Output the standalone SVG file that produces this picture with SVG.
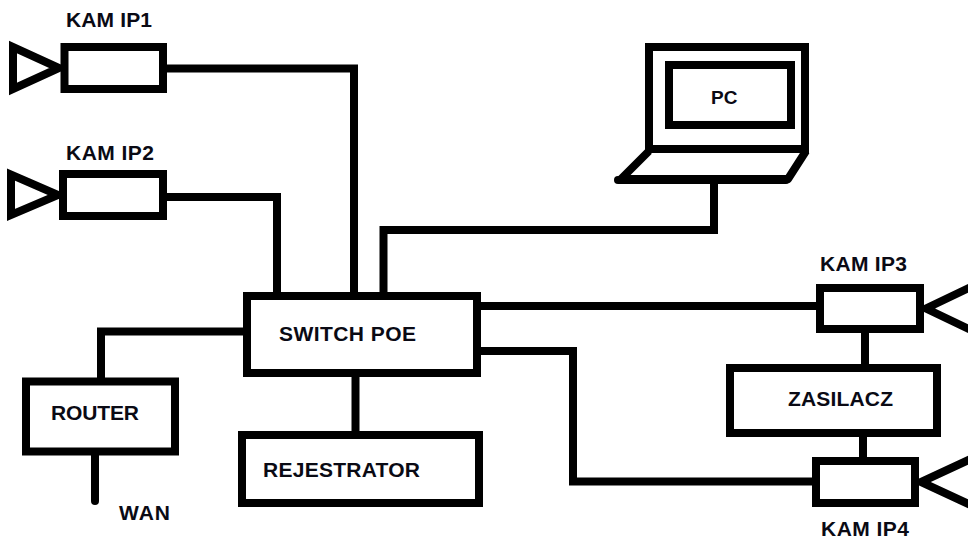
<svg xmlns="http://www.w3.org/2000/svg" width="968" height="540" viewBox="0 0 968 540">
<style>
.s{fill:#fff;stroke:#000;stroke-width:8;stroke-linejoin:miter}
.o{fill:none;stroke:#000;stroke-width:8;stroke-linejoin:miter;stroke-miterlimit:10}
text{font-family:"Liberation Sans",Arial,sans-serif;font-weight:bold;font-size:21px;fill:#0a0a14}
</style>
<rect width="968" height="540" fill="#fff"/>
<g id="connectors" class="o">
<path class="o" d="M167 68.500H354V296"/>
<path class="o" d="M167 197H277V296"/>
<path class="o" d="M714 184V230H383.500V296"/>
<path class="o" d="M243 331.500H101V378"/>
<path class="o" d="M95 455V501" stroke-linecap="round"/>
<path class="o" d="M355.500 377V431"/>
<path class="o" d="M481 306H816"/>
<path class="o" d="M481 351H573V481.500H813"/>
<path class="o" d="M865 333V364"/>
<path class="o" d="M863 437V457"/>
</g>
<g id="kam1"><polygon class="s" points="13,47 13,89 59,68"/><rect class="s" x="64.500" y="47" width="98.500" height="42"/><text x="66" y="27" textLength="86">KAM IP1</text></g>
<g id="kam2"><polygon class="s" points="11,174.500 11,215 58,195"/><rect class="s" x="63" y="174" width="100" height="42"/><text x="66" y="160" textLength="88">KAM IP2</text></g>
<g id="pc">
<rect class="s" x="649" y="47" width="156" height="102"/>
<rect class="s" x="669" y="65" width="122" height="60"/>
<path class="o" style="stroke-linejoin:round" d="M649 151L621 179H788L806 151"/>
<path class="o" style="stroke-linecap:round" d="M618 180H786"/>
<text x="711" y="104" style="font-size:19px">PC</text>
</g>
<g id="switch"><rect class="s" x="247" y="296" width="230" height="77"/><text x="279" y="341" textLength="137">SWITCH POE</text></g>
<g id="router"><rect class="s" x="26" y="381.500" width="149" height="70"/><text x="51" y="420" textLength="88">ROUTER</text></g>
<g id="wan"><text x="119" y="520" textLength="51">WAN</text></g>
<g id="rejestrator"><rect class="s" x="242" y="435" width="237" height="68"/><text x="263" y="477" textLength="157">REJESTRATOR</text></g>
<g id="kam3"><rect class="s" x="820" y="288" width="100" height="41"/><path class="o" d="M975 285L926 308.500L975 332"/><text x="820" y="271" textLength="87">KAM IP3</text></g>
<g id="zasilacz"><rect class="s" x="730" y="368" width="207" height="65"/><text x="788" y="406" textLength="105">ZASILACZ</text></g>
<g id="kam4"><rect class="s" x="816" y="461" width="99" height="42"/><path class="o" d="M975 457L921 482L975 507"/><text x="821" y="535.500" textLength="88">KAM IP4</text></g>
</svg>
